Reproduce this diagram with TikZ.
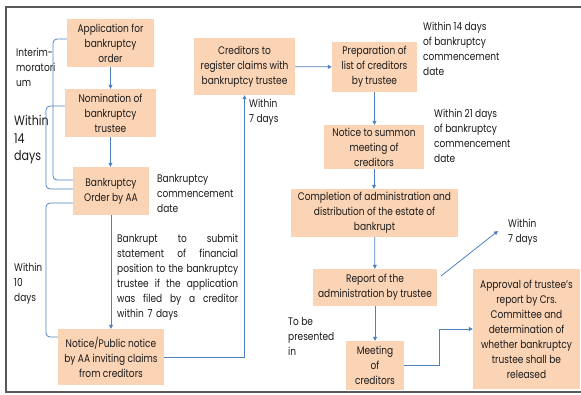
\documentclass[tikz,border=0pt]{standalone}
\usepackage{fontspec}
\setmainfont{Poppins}[FakeStretch=0.82]
\usetikzlibrary{arrows.meta}
\definecolor{peach}{HTML}{FBD4B6}
\definecolor{lineblue}{HTML}{4F81BD}
\definecolor{framegray}{HTML}{595959}
\definecolor{txt}{HTML}{1A1A1A}
\begin{document}
\begin{tikzpicture}[x=1pt,y=-1pt,
  box/.style={fill=peach, draw=none, align=center, inner sep=0pt, text=txt, font=\fontsize{11}{15}\selectfont},
  lbl/.style={anchor=west, align=left, inner sep=0pt, text=txt, font=\fontsize{11}{15}\selectfont},
  biglbl/.style={lbl, font=\fontsize{13.5}{17.5}\selectfont},
  conn/.style={draw=lineblue, line width=0.8pt, -{Triangle[length=4pt,width=4pt]}},
  bracket/.style={draw=lineblue, line width=0.8pt, rounded corners=4pt},
]
\useasboundingbox (0,0) rectangle (581,394);
\draw[framegray, line width=1.2pt] (581,7) -- (6,7) -- (6,392) -- (581,392);

% boxes
\node[box, minimum width=87pt, minimum height=48pt] (b1) at (110.5,43) {Application for\\bankruptcy\\order};
\node[box, minimum width=91pt, minimum height=48pt] (b2) at (110.5,113) {Nomination of\\bankruptcy\\trustee};
\node[box, minimum width=76pt, minimum height=48pt] (b3) at (111,191) {Bankruptcy\\Order by AA};
\node[box, minimum width=106pt, minimum height=56pt] (b4) at (111,357) {Notice/Public notice\\by AA inviting claims\\from creditors};
\node[box, minimum width=101pt, minimum height=57pt] (b5) at (244.5,66.5) {Creditors to\\register claims with\\bankruptcy trustee};
\node[box, minimum width=85pt, minimum height=50pt] (b6) at (374.5,67) {Preparation of\\list of creditors\\by trustee};
\node[box, minimum width=100pt, minimum height=44pt] (b7) at (374,147) {Notice to summon\\meeting of\\creditors};
\node[box, minimum width=167pt, minimum height=48pt] (b8) at (374.5,213) {Completion of administration and\\distribution of the estate of\\bankrupt};
\node[box, minimum width=124pt, minimum height=37pt] (b9) at (375,287.5) {Report of the\\administration by trustee};
\node[box, minimum width=58pt, minimum height=49pt] (b10) at (375,365.5) {Meeting\\of\\creditors};
\node[box, minimum width=107pt, minimum height=120pt] (b11) at (526.5,329) {Approval of trustee's\\report by Crs.\\Committee and\\determination of\\whether bankruptcy\\trustee shall be\\released};

% labels
\node[lbl] (l1) at (16,67) {Interim-\\moratori\\um};
\node[biglbl] (l2) at (14,140) {Within\\14\\days};
\node[lbl] (l3) at (14,284) {Within\\10\\days};
\node[lbl] (l4) at (157,193) {Bankruptcy\\commencement\\date};
\node[lbl, text width=121pt] (l5) at (117,277.5) {Bankrupt\hfill to\hfill submit\\statement\hfill of\hfill financial\\position\hfill to\hfill the\hfill bankruptcy\\trustee\hfill if\hfill the\hfill application\\was\hfill filed\hfill by\hfill a\hfill creditor\\within 7 days};
\node[lbl] (l6) at (249,112) {Within\\7 days};
\node[lbl] (l7) at (423,49) {Within 14 days\\of bankruptcy\\commencement\\date};
\node[lbl] (l8) at (434,135.5) {Within 21 days\\of bankruptcy\\commencement\\date};
\node[lbl] (l9) at (508,232) {Within\\7 days};
\node[lbl] (l10) at (288,336) {To be\\presented\\in};

% connectors
\draw[conn] (b1) -- (b2);
\draw[conn] (b2.south) -- (b2.south |- b3.north);
\draw[conn] (b3) -- (b4);
\draw[conn] (b4.east) -| (b5.south);
\draw[conn] (b5) -- (b6);
\draw[conn] (b6.south) -- (b6.south |- b7.north);
\draw[conn] (b7.south) -- (b7.south |- b8.north);
\draw[conn] (b8) -- (b9);
\draw[conn] (b9) -- (b10);
\draw[conn] (b10.east) -- ++(35,0) |- (b11.west);
\coordinate (d1) at (441,276);
\coordinate (d2) at (498,231);
\draw[conn] (d1) -- (d2);

% brackets
\draw[bracket] ([yshift=4pt]b1.west) -- (53,39) -- (53,180) -- ([yshift=11pt]b3.west);
\draw[bracket] ([yshift=7pt]b2.west) -- (46,106) -- (46,189) -- ([yshift=2pt]b3.west);
\draw[bracket] ([yshift=-12pt]b3.west) -- (46,203) -- (46,337) -- ([yshift=20pt]b4.west);
\end{tikzpicture}
\end{document}
